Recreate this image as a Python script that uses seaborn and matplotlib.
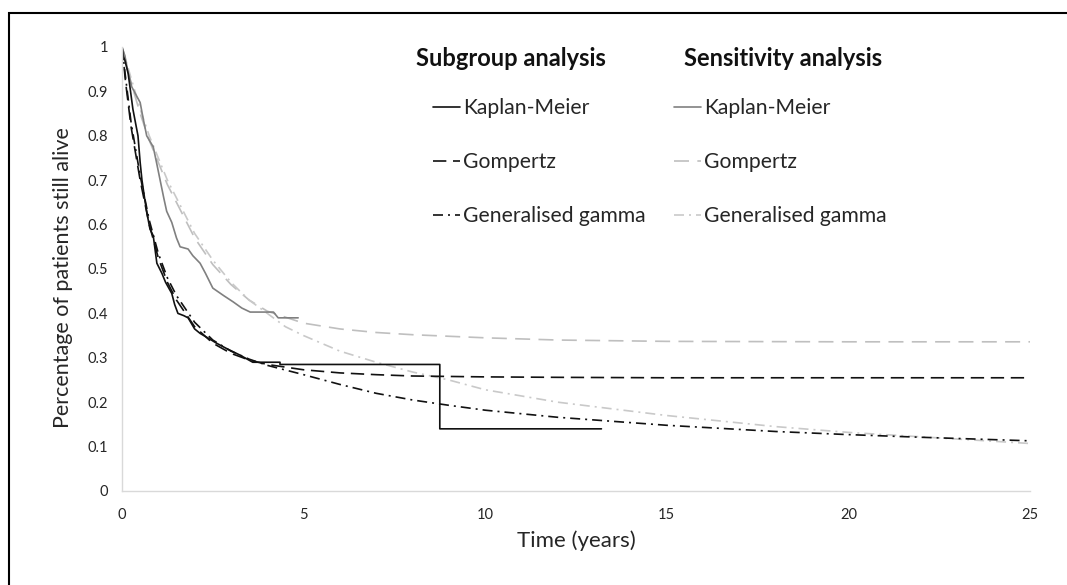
import matplotlib
matplotlib.use("Agg")
import matplotlib.pyplot as plt
from matplotlib.patches import Rectangle
import seaborn as sns

# ---------------- data ----------------
# Kaplan-Meier curves (corner points of the step curves)
sub_km_t = [0, 0.03, 0.08, 0.17, 0.3, 0.44, 0.5, 0.55, 0.63, 0.7, 0.77, 0.86, 0.96, 1.1, 1.2,
            1.37, 1.45, 1.54, 1.7, 1.82, 2.0, 2.15, 2.4, 2.6, 2.9, 3.25, 3.6, 4.35, 4.35,
            8.75, 8.75, 13.2]
sub_km_s = [1.0, 0.98, 0.97, 0.94, 0.86, 0.80, 0.74, 0.70, 0.655, 0.62, 0.59, 0.575, 0.513,
            0.49, 0.47, 0.445, 0.42, 0.40, 0.395, 0.39, 0.365, 0.355, 0.343, 0.333, 0.32,
            0.306, 0.29, 0.29, 0.285, 0.285, 0.14, 0.14]

sen_km_t = [0, 0.08, 0.15, 0.27, 0.4, 0.5, 0.58, 0.68, 0.86, 0.95, 1.05, 1.15, 1.23, 1.37,
            1.5, 1.6, 1.82, 1.95, 2.15, 2.3, 2.5, 2.8, 3.06, 3.3, 3.53, 4.17, 4.3, 4.85]
sen_km_s = [1.0, 0.98, 0.95, 0.91, 0.89, 0.875, 0.84, 0.80, 0.775, 0.74, 0.70, 0.66, 0.63,
            0.605, 0.57, 0.55, 0.545, 0.53, 0.513, 0.49, 0.457, 0.44, 0.426, 0.412, 0.403,
            0.403, 0.39, 0.39]

sub_gomp_t = [0, 0.1, 0.25, 0.5, 0.75, 1.0, 1.25, 1.5, 2.0, 2.5, 3.0, 3.5, 4.0, 5.0, 6.0, 7.0,
              8.0, 10, 12, 15, 20, 25]
sub_gomp_s = [1.0, 0.92, 0.82, 0.70, 0.60, 0.525, 0.47, 0.43, 0.37, 0.333, 0.31, 0.295, 0.285,
              0.273, 0.266, 0.262, 0.259, 0.257, 0.256, 0.255, 0.255, 0.255]

sub_gg_t = [0, 0.1, 0.25, 0.5, 0.75, 1.0, 1.25, 1.5, 2.0, 2.5, 3.0, 3.5, 4.0, 5.0, 6.0, 7.0,
            8.0, 9.0, 10, 12, 15, 18, 20, 22, 25]
sub_gg_s = [1.0, 0.93, 0.83, 0.71, 0.61, 0.535, 0.48, 0.44, 0.38, 0.34, 0.315, 0.297, 0.283,
            0.262, 0.24, 0.22, 0.205, 0.193, 0.182, 0.166, 0.148, 0.134, 0.127, 0.121, 0.113]

sen_gomp_t = [0, 0.25, 0.5, 0.75, 1.0, 1.25, 1.5, 2.0, 2.5, 3.0, 3.5, 4.0, 5.0, 6.0, 7.0, 8.0,
              10, 12, 15, 20, 25]
sen_gomp_s = [1.0, 0.92, 0.85, 0.79, 0.74, 0.69, 0.65, 0.57, 0.51, 0.465, 0.43, 0.405, 0.378,
              0.365, 0.357, 0.352, 0.345, 0.34, 0.337, 0.336, 0.336]

sen_gg_t = [0, 0.25, 0.5, 0.75, 1.0, 1.25, 1.5, 2.0, 2.5, 3.0, 3.5, 4.0, 4.5, 5.0, 6.0, 7.0,
            8.0, 9.0, 10, 12, 15, 18, 20, 22, 25]
sen_gg_s = [1.0, 0.93, 0.86, 0.80, 0.75, 0.70, 0.66, 0.58, 0.52, 0.47, 0.43, 0.40, 0.37, 0.35,
            0.315, 0.29, 0.268, 0.25, 0.228, 0.20, 0.17, 0.145, 0.132, 0.122, 0.107]

labels = ["Kaplan-Meier", "Gompertz", "Generalised gamma"]
headers = ["Subgroup analysis", "Sensitivity analysis"]
y_ticks = [0, 0.1, 0.2, 0.3, 0.4, 0.5, 0.6, 0.7, 0.8, 0.9, 1]
y_tick_labels = ["0", "0.1", "0.2", "0.3", "0.4", "0.5", "0.6", "0.7", "0.8", "0.9", "1"]
x_ticks = [0, 5, 10, 15, 20, 25]

# ---------------- style ----------------
sns.set_theme(style="white")
plt.rcParams["font.family"] = ["Lato", "DejaVu Sans"]
TXT = "#262626"

W, H = 1067, 585
fig = plt.figure(figsize=(W / 100, H / 100), dpi=100)
ax = fig.add_axes([122 / W, 1 - 491 / H, (1030 - 122) / W, (491 - 47) / H])

BLACK = "#111111"
GREY = "#808080"
LIGHT = "#bfbfbf"
LIGHT2 = "#c9c9c9"
lw = 1.2

ls_dash_dark = (0, (8, 4))
ls_dashdot_dark = (0, (6, 3, 1.2, 3))
ls_dash_light = (0, (9, 5))
ls_dashdot_light = (0, (6, 3, 1.2, 3))

sns.lineplot(x=sen_gomp_t, y=sen_gomp_s, ax=ax, color=LIGHT, lw=lw, linestyle=ls_dash_light)
sns.lineplot(x=sen_gg_t, y=sen_gg_s, ax=ax, color=LIGHT2, lw=lw, linestyle=ls_dashdot_light)
sns.lineplot(x=sen_km_t, y=sen_km_s, ax=ax, color=GREY, lw=lw, sort=False, estimator=None)
sns.lineplot(x=sub_gomp_t, y=sub_gomp_s, ax=ax, color=BLACK, lw=lw, linestyle=ls_dash_dark)
sns.lineplot(x=sub_gg_t, y=sub_gg_s, ax=ax, color=BLACK, lw=lw, linestyle=ls_dashdot_dark)
sns.lineplot(x=sub_km_t, y=sub_km_s, ax=ax, color=BLACK, lw=lw, sort=False, estimator=None)

lines = ax.get_lines()
sen_handles = [lines[2], lines[0], lines[1]]
sub_handles = [lines[5], lines[3], lines[4]]

ax.set_xlim(0, 25)
ax.set_ylim(0, 1)
ax.set_xticks(x_ticks)
ax.set_yticks(y_ticks)
ax.set_yticklabels(y_tick_labels)
ax.tick_params(axis="both", length=0, labelsize=10.5, labelcolor=TXT)
ax.tick_params(axis="x", pad=12)
ax.tick_params(axis="y", pad=10)
for s in ["top", "right"]:
    ax.spines[s].set_visible(False)
for s in ["left", "bottom"]:
    ax.spines[s].set_color("#d9d9d9")
    ax.spines[s].set_linewidth(1.0)

ax.set_xlabel("Time (years)", fontsize=16, color=TXT, labelpad=6)
ax.set_ylabel("Percentage of patients still alive", fontsize=15.5, color=TXT)
ax.yaxis.set_label_coords(-0.054, 0.481)

# legends
leg_kw = dict(frameon=False, fontsize=15.2, handlelength=1.28, handletextpad=0.14,
              labelspacing=1.62, borderpad=0, borderaxespad=0, loc="upper left",
              bbox_transform=fig.transFigure, labelcolor=TXT)
leg1 = ax.legend(sub_handles, labels, bbox_to_anchor=(433 / W, 1 - 98 / H), **leg_kw)
ax.add_artist(leg1)
leg2 = ax.legend(sen_handles, labels, bbox_to_anchor=(674 / W, 1 - 98 / H), **leg_kw)

fig.text(416 / W, 1 - 58 / H, headers[0], fontsize=17, fontweight="bold",
         color=BLACK, va="center", ha="left")
fig.text(684 / W, 1 - 58 / H, headers[1], fontsize=17, fontweight="bold",
         color=BLACK, va="center", ha="left")

# outer frame (top and left edges visible)
fig.add_artist(Rectangle((9 / W, -0.5), 2.0, 1.5 - 13 / H, transform=fig.transFigure,
                         fill=False, edgecolor="black", lw=1.5))

fig.savefig("out.png", dpi=100, facecolor="white")
